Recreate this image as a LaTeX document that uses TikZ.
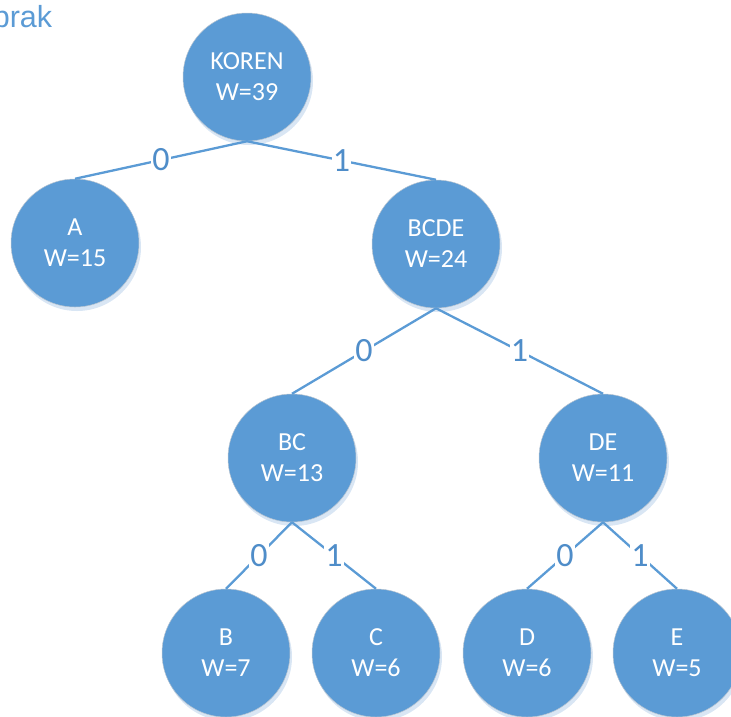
\documentclass[tikz,border=0pt]{standalone}
\usepackage{fontspec}
\setmainfont{Carlito}
\newfontfamily\arialfont{Liberation Sans}
\definecolor{nodeblue}{HTML}{5B9BD5}
\definecolor{shadowblue}{HTML}{D9E6F4}
\definecolor{labelblue}{HTML}{4F8DC9}
\definecolor{rimgray}{HTML}{B8C4D0}

\begin{document}
\begin{tikzpicture}[x=1pt,y=-1pt,
  treenode/.style={circle, fill=nodeblue, draw=rimgray, line width=0.5pt,
    minimum size=128pt, inner sep=0pt, text=white, align=center,
    font=\fontsize{26}{31}\selectfont},
  treeedge/.style={draw=nodeblue, line width=2.3pt},
  bitlabel/.style={midway, fill=white, inner sep=1.2pt, text=labelblue,
    font=\fontsize{34}{36}\selectfont},
  nodeshadow/.style={fill=shadowblue}
]
\useasboundingbox (0,0) rectangle (731,716);

% node centres
\coordinate (pK)  at (247,77);
\coordinate (pA)  at (75,243);
\coordinate (pBCDE) at (436,244);
\coordinate (pBC) at (292,458);
\coordinate (pDE) at (603,458);
\coordinate (pB)  at (226,653);
\coordinate (pC)  at (376,653);
\coordinate (pD)  at (527,653);
\coordinate (pE)  at (677,653);

% soft shadows under the circles
\foreach \p in {pK,pA,pBCDE,pBC,pDE,pB,pC,pD,pE}
  \fill[nodeshadow] ([shift={(2,4)}]\p) circle (64);

% title fragment
\node[anchor=base west, inner sep=0pt, text=nodeblue,
  font=\arialfont\fontsize{30.5}{34}\selectfont] (title) at (-7.4,27) {prak};

% tree nodes
\node[treenode] (koren) at (pK) {KOREN\\W=39};
\node[treenode] (a)     at (pA) {A\\W=15};
\node[treenode] (bcde)  at (pBCDE) {BCDE\\W=24};
\node[treenode] (bc)    at (pBC) {BC\\W=13};
\node[treenode] (de)    at (pDE) {DE\\W=11};
\node[treenode] (b)     at (pB) {B\\W=7};
\node[treenode] (c)     at (pC) {C\\W=6};
\node[treenode] (d)     at (pD) {D\\W=6};
\node[treenode] (e)     at (pE) {E\\W=5};

% branches with their code bits
\draw[treeedge] (koren.south) -- node[bitlabel]{0} (a.north);
\draw[treeedge] (koren.south) -- node[bitlabel]{1} (bcde.north);
\draw[treeedge] (bcde.south) -- node[bitlabel]{0} (bc.north);
\draw[treeedge] (bcde.south) -- node[bitlabel]{1} (de.north);
\draw[treeedge] (bc.south) -- node[bitlabel]{0} (b.north);
\draw[treeedge] (bc.south) -- node[bitlabel]{1} (c.north);
\draw[treeedge] (de.south) -- node[bitlabel]{0} (d.north);
\draw[treeedge] (de.south) -- node[bitlabel]{1} (e.north);
\end{tikzpicture}
\end{document}
